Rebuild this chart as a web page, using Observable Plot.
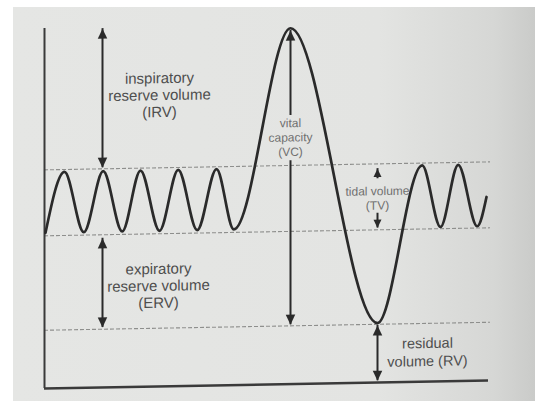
<!DOCTYPE html>
<html><head><meta charset="utf-8">
<script src="https://cdn.jsdelivr.net/npm/d3@7"></script>
<script src="https://cdn.jsdelivr.net/npm/@observablehq/plot@0.6"></script>
<style>
html,body{margin:0;padding:0;background:#fff;width:535px;height:401px;overflow:hidden;position:relative;}
#paper{position:absolute;left:13px;top:7px;right:0;bottom:0;background:linear-gradient(90deg,#e5e6e4 0%,#e3e4e2 70%,#d6d7d5 92%,#cacbc9 100%);}
#chart{position:absolute;left:0;top:0;}
</style></head><body><div id="paper"></div><div id="chart"></div>
<script>
// Breathing trace: turning points of the spirogram (time in s, lung volume in L)
const traceTime   = [0.1, 2.0, 3.93, 5.87, 7.77, 9.6, 11.5, 13.37, 15.27, 17.2, 18.93, 24.6, 33.3, 37.77, 39.6, 41.37, 43.27, 44.2];
const traceVolume = [2.62, 3.64, 2.62, 3.64, 2.62, 3.64, 2.62, 3.64, 2.62, 3.64, 2.62, 5.99, 1.0, 3.64, 2.60, 3.64, 2.60, 3.09];

// Dashed reference levels (L)
const levelNames  = ["end of tidal inspiration", "end of tidal expiration", "residual volume"];
const levelVolume = [3.68, 2.57, 0.98];

// Double-headed volume arrows: IRV, ERV, VC, TV, RV
const arrowNames   = ["IRV", "ERV", "VC", "TV", "RV"];
const arrowTime    = [5.8, 5.8, 24.6, 33.3, 33.3];
const arrowLow     = [3.70, 1.01, 1.0, 2.60, 0.03];
const arrowHigh    = [6.04, 2.51, 5.95, 3.60, 0.96];
const arrowGapLow  = [null, null, 3.76, 2.85, null];
const arrowGapHigh = [null, null, 4.52, 3.43, null];

// Labels
const bigLabelText   = ["inspiratory\nreserve volume\n(IRV)", "expiratory\nreserve volume\n(ERV)"];
const bigLabelTime   = [11.5, 11.4];
const bigLabelVolume = [4.91, 1.70];
const rvLabelText    = ["residual\nvolume (RV)"];
const rvLabelTime    = [38.3];
const rvLabelVolume  = [0.51];
const smallLabelText   = ["vital\ncapacity\n(VC)", "tidal volume\n(TV)"];
const smallLabelTime   = [24.6, 33.3];
const smallLabelVolume = [4.16, 3.11];

// Axis extents
const timeDomain = [0, 44.4];
const volumeDomain = [0, 6.06];

// ---- build tables ----
const trace = traceTime.map((t, i) => ({t, v: traceVolume[i]}));
const levels = levelNames.map((name, i) => ({name, v: levelVolume[i]}));
const shafts = [];
const headsUp = [];
const headsDown = [];
arrowNames.forEach((name, i) => {
  const t = arrowTime[i];
  if (arrowGapLow[i] != null) {
    shafts.push({name, t, y1: arrowLow[i], y2: arrowGapLow[i]});
    shafts.push({name, t, y1: arrowGapHigh[i], y2: arrowHigh[i]});
  } else {
    shafts.push({name, t, y1: arrowLow[i], y2: arrowHigh[i]});
  }
  headsUp.push({name, t, v: arrowHigh[i], small: name === "TV"});
  headsDown.push({name, t, v: arrowLow[i], small: name === "TV"});
});
const bigLabels = bigLabelText.map((text, i) => ({text, t: bigLabelTime[i], v: bigLabelVolume[i]}));
const rvLabels = rvLabelText.map((text, i) => ({text, t: rvLabelTime[i], v: rvLabelVolume[i]}));
const smallLabels = smallLabelText.map((text, i) => ({text, t: smallLabelTime[i], v: smallLabelVolume[i]}));

// Filled arrowheads with the tip at the anchor point
const headUp = {draw(ctx, size) { const r = Math.sqrt(size / Math.PI); ctx.moveTo(0, 0); ctx.lineTo(0.95 * r, 2 * r); ctx.lineTo(-0.95 * r, 2 * r); ctx.closePath(); }};
const headDown = {draw(ctx, size) { const r = Math.sqrt(size / Math.PI); ctx.moveTo(0, 0); ctx.lineTo(0.95 * r, -2 * r); ctx.lineTo(-0.95 * r, -2 * r); ctx.closePath(); }};

const font = "'Liberation Sans', Arial, Helvetica, sans-serif";
const ink = "#2a2a2a";

const chart = Plot.plot({
  width: 535,
  height: 401,
  marginLeft: 44,
  marginRight: 47,
  marginTop: 28,
  marginBottom: 13,
  x: {domain: timeDomain, axis: null},
  y: {domain: volumeDomain, axis: null},
  style: {background: "transparent", fontFamily: font, overflow: "visible"},
  marks: [
    Plot.ruleY(levels, {y: "v", x1: 0, x2: 44.6, stroke: "#8e8f8d", strokeWidth: 1.1, strokeDasharray: "4,2"}),
    Plot.ruleX([0], {y1: volumeDomain[0], y2: volumeDomain[1], stroke: "#3a3a3a", strokeWidth: 2}),
    Plot.ruleY([0], {x1: timeDomain[0], x2: timeDomain[1], stroke: "#3a3a3a", strokeWidth: 2.6}),
    Plot.line(trace, {x: "t", y: "v", curve: "monotone-x", stroke: ink, strokeWidth: 2.7}),
    Plot.ruleX(shafts, {x: "t", y1: "y1", y2: "y2", stroke: ink, strokeWidth: 2}),
    Plot.dot(headsUp.filter(d => !d.small), {x: "t", y: "v", symbol: headUp, r: 5, fill: ink, stroke: "none"}),
    Plot.dot(headsDown.filter(d => !d.small), {x: "t", y: "v", symbol: headDown, r: 5, fill: ink, stroke: "none"}),
    Plot.dot(headsUp.filter(d => d.small), {x: "t", y: "v", symbol: headUp, r: 4.2, fill: ink, stroke: "none"}),
    Plot.dot(headsDown.filter(d => d.small), {x: "t", y: "v", symbol: headDown, r: 4.2, fill: ink, stroke: "none"}),
    Plot.text(bigLabels, {x: "t", y: "v", text: "text", fontSize: 15, lineHeight: 1.13, lineAnchor: "middle", fill: "#4e4e4e", fontFamily: font}),
    Plot.text(rvLabels, {x: "t", y: "v", text: "text", fontSize: 14.5, lineHeight: 1.24, lineAnchor: "middle", fill: "#4e4e4e", fontFamily: font}),
    Plot.text(smallLabels, {x: "t", y: "v", text: "text", fontSize: 12, lineHeight: 1.2, lineAnchor: "middle", fill: "#707070", fontFamily: font})
  ]
});
chart.style.transformOrigin = "44px 0px";
chart.style.transform = "skewY(-1.03deg)";
document.getElementById("chart").appendChild(chart);
</script></body></html>
